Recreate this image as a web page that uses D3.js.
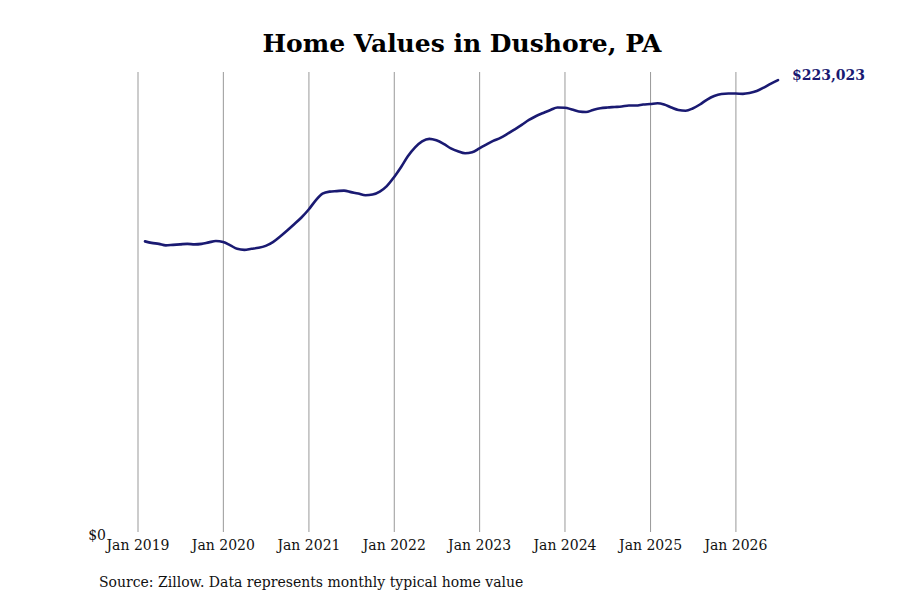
<!DOCTYPE html>
<html>
<head>
<meta charset="utf-8">
<script src="https://cdn.jsdelivr.net/npm/d3@7"></script>
<style>
  body { margin: 0; background: #fff; }
  svg { display: block; font-family: "DejaVu Serif", serif; }
</style>
</head>
<body>
<svg id="chart" width="900" height="600"></svg>
<script>
// Monthly typical home value (Zillow), month-end dates
const startMonth = "2019-01-31";
const values = [
  143443, 142706, 142215, 141477, 141723, 141968, 142215, 141968, 142215, 142951, 143590, 143098,
  141477, 139758, 139267, 139758, 140249, 141232, 143098, 145898, 148846, 152039, 155232, 159162,
  163829, 167022, 168004, 168250, 168495, 167759, 167022, 166187, 166530, 168004, 170706, 175127,
  180285, 185443, 189864, 192812, 194040, 193303, 191584, 189373, 187899, 186917, 187408, 189373,
  191338, 193057, 194531, 196496, 198707, 200917, 203373, 205338, 206812, 208286, 209514, 209416,
  208532, 207549, 207303, 208286, 209121, 209514, 209759, 210005, 210496, 210496, 210988, 211233,
  211577, 210988, 209514, 208286, 207942, 209023, 210988, 213444, 215163, 216146, 216391, 216391,
  216244, 216637, 217619, 219339, 221304, 223023
];
const tickYears = [2019, 2020, 2021, 2022, 2023, 2024, 2025, 2026];
const titleText = "Home Values in Dushore, PA";
const sourceText = "Source: Zillow. Data represents monthly typical home value";

const svg = d3.select("#chart");
const lineColor = "#1a1a72";

// Build dates: last day of each month starting from startMonth
const first = d3.timeParse("%Y-%m-%d")(startMonth);
const data = values.map((v, i) => {
  const d = new Date(first.getFullYear(), first.getMonth() + i + 1, 0);
  return { date: d, value: v };
});

const x = d3.scaleTime()
  .domain([new Date(2019, 0, 1), data[data.length - 1].date])
  .range([138, 778]);

const y = d3.scaleLinear()
  .domain([0, d3.max(values) * 1.018])
  .range([532, 72]);

// Title
svg.append("text")
  .attr("x", 462)
  .attr("y", 52)
  .attr("text-anchor", "middle")
  .attr("font-size", "25px")
  .attr("font-weight", "bold")
  .attr("fill", "#000")
  .text(titleText);

// Vertical gridlines at each January
const ticks = tickYears.map(yr => new Date(yr, 0, 1));
svg.append("g")
  .selectAll("line")
  .data(ticks)
  .enter().append("line")
  .attr("x1", d => x(d))
  .attr("x2", d => x(d))
  .attr("y1", y.range()[1])
  .attr("y2", y.range()[0])
  .attr("stroke", "#999")
  .attr("stroke-width", 1);

// X tick labels
svg.append("g")
  .selectAll("text")
  .data(ticks)
  .enter().append("text")
  .attr("x", d => x(d))
  .attr("y", 550)
  .attr("text-anchor", "middle")
  .attr("font-size", "14px")
  .attr("fill", "#111")
  .text(d => d3.timeFormat("Jan %Y")(d));

// $0 label
svg.append("text")
  .attr("x", 106)
  .attr("y", y(0) + 8)
  .attr("text-anchor", "end")
  .attr("font-size", "14px")
  .attr("fill", "#111")
  .text("$0");

// Line
const line = d3.line()
  .x(d => x(d.date))
  .y(d => y(d.value))
  .curve(d3.curveMonotoneX);

svg.append("path")
  .datum(data)
  .attr("fill", "none")
  .attr("stroke", lineColor)
  .attr("stroke-width", 2.6)
  .attr("stroke-linejoin", "round")
  .attr("stroke-linecap", "round")
  .attr("d", line);

// End label
const last = data[data.length - 1];
svg.append("text")
  .attr("x", x(last.date) + 14)
  .attr("y", y(last.value))
  .attr("font-size", "14px")
  .attr("font-weight", "bold")
  .attr("fill", lineColor)
  .text(d3.format("$,")(last.value));

// Source note
svg.append("text")
  .attr("x", 99)
  .attr("y", 587)
  .attr("font-size", "14px")
  .attr("fill", "#111")
  .text(sourceText);
</script>
</body>
</html>
